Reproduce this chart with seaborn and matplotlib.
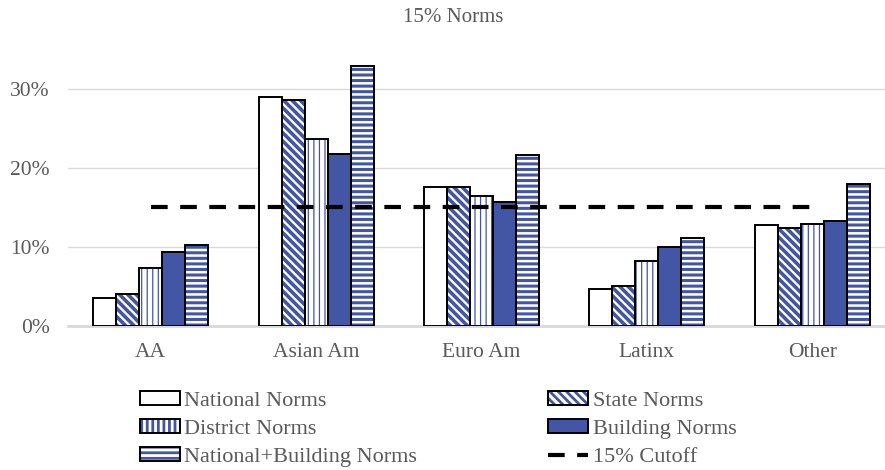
import numpy as np
import pandas as pd
import matplotlib
matplotlib.use("Agg")
import matplotlib.pyplot as plt
from matplotlib.patches import Rectangle, Patch
from matplotlib.lines import Line2D
from matplotlib.legend_handler import HandlerTuple
import seaborn as sns

groups = ["AA", "Asian Am", "Euro Am", "Latinx", "Other"]
norms = ["National Norms", "State Norms", "District Norms",
         "Building Norms", "National+Building Norms"]
national = [3.5, 28.9, 17.6, 4.7, 12.7]
state = [4.0, 28.6, 17.6, 5.0, 12.4]
district = [7.3, 23.6, 16.4, 8.2, 12.9]
building = [9.4, 21.7, 15.7, 10.0, 13.3]
nat_bldg = [10.2, 32.9, 21.6, 11.1, 17.9]
cutoff = [15, 15, 15, 15, 15]

BLUE = "#4355A5"
GRAY = "#595959"

df = pd.DataFrame({
    "group": groups * 5,
    "norm": np.repeat(norms, len(groups)),
    "value": national + state + district + building + nat_bldg,
})

sns.set_style("white")
plt.rcParams["font.family"] = ["Liberation Serif", "DejaVu Serif"]
plt.rcParams["hatch.linewidth"] = 2.0

fig = plt.figure(figsize=(8.85, 4.70), dpi=100)
ax = fig.add_axes([68 / 885, 144 / 470, 827 / 885, 277 / 470])

sns.barplot(data=df, x="group", y="value", hue="norm", hue_order=norms,
            order=groups, width=0.695, gap=0, palette=["white"] * 5,
            legend=False, ax=ax, zorder=2)

styles = [
    dict(face="white", hatch=None, hlw=0),
    dict(face="white", hatch="\\\\\\\\", hlw=2.6),
    dict(face="white", hatch="|||", hlw=0.9),
    dict(face=BLUE, hatch=None, hlw=0),
    dict(face="white", hatch="---", hlw=2.2),
]

for cont, st in zip(ax.containers, styles):
    for p in cont.patches:
        p.set_facecolor(st["face"])
        p.set_edgecolor(BLUE)
        p.set_linewidth(0)
        if st["hatch"]:
            p.set_hatch(st["hatch"])
            if hasattr(p, "set_hatch_linewidth"):
                p.set_hatch_linewidth(st["hlw"])
        ax.add_patch(Rectangle(p.get_xy(), p.get_width(), p.get_height(),
                               facecolor="none", edgecolor="black",
                               linewidth=1.4, zorder=3))

ax.plot(range(len(groups)), cutoff, color="black", lw=3,
        linestyle=(0, (4, 3)), zorder=4)

ax.set_ylim(0, 35)
ax.set_xlim(-0.5, len(groups) - 0.5)
ax.set_yticks([0, 10, 20, 30])
ax.set_yticklabels([f"{v}%" for v in [0, 10, 20, 30]])
ax.yaxis.grid(True, color="#D9D9D9", lw=1)
ax.set_axisbelow(True)
for s in ["top", "right", "left"]:
    ax.spines[s].set_visible(False)
ax.spines["bottom"].set_color("#D9D9D9")
ax.spines["bottom"].set_linewidth(2)
ax.tick_params(axis="both", length=0, colors=GRAY, labelsize=15.5)
ax.tick_params(axis="y", pad=13)
ax.tick_params(axis="x", pad=12)
ax.set_xlabel("")
ax.set_ylabel("")

fig.text(453 / 885, 1 - 18 / 470, "15% Norms", ha="center", va="center",
         color=GRAY, fontsize=15)

def handle(st):
    under = Patch(facecolor=st["face"], edgecolor=BLUE, linewidth=0,
                  hatch=st["hatch"])
    if st["hatch"] and hasattr(under, "set_hatch_linewidth"):
        under.set_hatch_linewidth(st["hlw"])
    over = Patch(facecolor="none", edgecolor="black", linewidth=1.4)
    return (under, over)

hs = [handle(st) for st in styles]
line_h = Line2D([], [], color="black", lw=3, linestyle=(0, (4, 3)))
order_h = [hs[0], hs[2], hs[4], hs[1], hs[3], line_h]
order_l = [norms[0], norms[2], norms[4], norms[1], norms[3], "15% Cutoff"]
leg = fig.legend(order_h, order_l, ncol=2, loc="upper left",
                 bbox_to_anchor=(140 / 885, 1 - 391 / 470), frameon=False,
                 fontsize=16, handlelength=1.8, handleheight=0.6,
                 handletextpad=0.2, labelspacing=0.37, columnspacing=5.9,
                 labelcolor=GRAY, borderpad=0, borderaxespad=0,
                 handler_map={tuple: HandlerTuple(ndivide=1, pad=0)})

fig.savefig("out.png", dpi=100)
